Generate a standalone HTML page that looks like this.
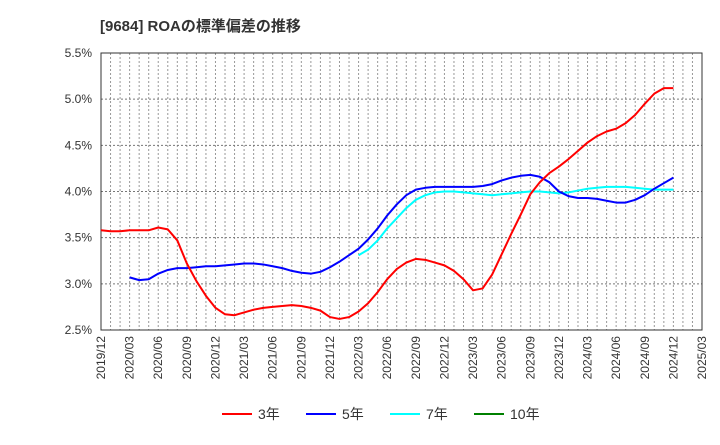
<!DOCTYPE html>
<html><head><meta charset="utf-8"><style>
body{margin:0;background:#fff;font-family:"Liberation Sans","Noto Sans CJK JP",sans-serif;}
svg text{font-family:"Liberation Sans","Noto Sans CJK JP",sans-serif;}
</style></head><body>
<svg id="c" width="720" height="440">
<text x="100" y="31" font-size="15" font-weight="bold" fill="#333">[9684]  ROAの標準偏差の推移</text>
</svg>
<script>
const yTicks=[2.5,3.0,3.5,4.0,4.5,5.0,5.5];
const xTickLabels=["2019/12","2020/03","2020/06","2020/09","2020/12","2021/03","2021/06","2021/09","2021/12","2022/03","2022/06","2022/09","2022/12","2023/03","2023/06","2023/09","2023/12","2024/03","2024/06","2024/09","2024/12","2025/03"];
const s3=[3.58,3.57,3.57,3.58,3.58,3.58,3.61,3.59,3.47,3.22,3.03,2.87,2.74,2.67,2.66,2.69,2.72,2.74,2.75,2.76,2.77,2.76,2.74,2.71,2.64,2.62,2.64,2.70,2.79,2.91,3.05,3.16,3.23,3.27,3.26,3.23,3.20,3.14,3.05,2.93,2.95,3.10,3.32,3.54,3.75,3.97,4.10,4.20,4.27,4.35,4.44,4.53,4.60,4.65,4.68,4.74,4.83,4.95,5.06,5.12,5.12];
const s5Start=3;
const s5=[3.07,3.04,3.05,3.11,3.15,3.17,3.17,3.18,3.19,3.19,3.20,3.21,3.22,3.22,3.21,3.19,3.17,3.14,3.12,3.11,3.13,3.18,3.24,3.31,3.38,3.48,3.60,3.74,3.86,3.96,4.02,4.04,4.05,4.05,4.05,4.05,4.05,4.06,4.08,4.12,4.15,4.17,4.18,4.16,4.10,4.00,3.95,3.93,3.93,3.92,3.90,3.88,3.88,3.91,3.96,4.03,4.09,4.15];
const s7Start=27;
const s7=[3.31,3.37,3.47,3.60,3.71,3.82,3.91,3.96,3.99,4.00,4.00,3.99,3.98,3.97,3.96,3.97,3.98,3.99,4.00,4.00,3.99,3.98,3.99,4.01,4.03,4.04,4.05,4.05,4.05,4.04,4.03,4.02,4.02,4.02];
const legendLabels=["3年","5年","7年","10年"];
const legendColors=["#ff0000","#0000ff","#00ffff","#008000"];
const L=101,R=702,T=53,B=330,NM=63;
const svg=document.getElementById('c');const NS='http://www.w3.org/2000/svg';
const X=i=>L+(R-L)*i/NM;
const Y=v=>B-(v-2.5)/3*(B-T);
function mk(t,a,p){const e=document.createElementNS(NS,t);for(const k in a)e.setAttribute(k,a[k]);(p||svg).appendChild(e);return e;}
const g=mk('g',{});


for(let i=1;i<NM;i++){mk('line',{x1:X(i),x2:X(i),y1:T,y2:B,stroke:'#999','stroke-dasharray':'2,2','stroke-width':1},g);}
yTicks.forEach(v=>{if(v>2.5&&v<5.5)mk('line',{x1:L,x2:R,y1:Y(v),y2:Y(v),stroke:'#777','stroke-dasharray':'2,2','stroke-width':1},g);
const t=mk('text',{x:92,y:Y(v)+4,'text-anchor':'end','font-size':12,fill:'#333'});t.textContent=v.toFixed(1)+'%';

});
xTickLabels.forEach((s,k)=>{const x=X(k*3);const t=mk('text',{x:0,y:0,'text-anchor':'end','font-size':12,fill:'#333',transform:`translate(${x+4},336) rotate(-90)`});t.textContent=s;

});
const fr=mk('rect',{x:L,y:T,width:R-L,height:B-T,fill:'none',stroke:'#333','stroke-width':1});


function line(arr,st,col,name){const p=mk('polyline',{points:arr.map((v,i)=>X(i+st)+','+Y(v)).join(' '),fill:'none',stroke:col,'stroke-width':2,'stroke-linejoin':'round'});

}
line(s7,s7Start,'#00ffff','series-7y');
line(s5,s5Start,'#0000ff','series-5y');
line(s3,0,'#ff0000','series-3y');
const lx=[222,306,390,474];
legendLabels.forEach((s,k)=>{const lg=mk('g',{});


mk('line',{x1:lx[k],x2:lx[k]+30,y1:414,y2:414,stroke:legendColors[k],'stroke-width':2},lg);
const t=mk('text',{x:lx[k]+36,y:419,'font-size':14,fill:'#333'},lg);t.textContent=s;});
</script>
</body></html>
